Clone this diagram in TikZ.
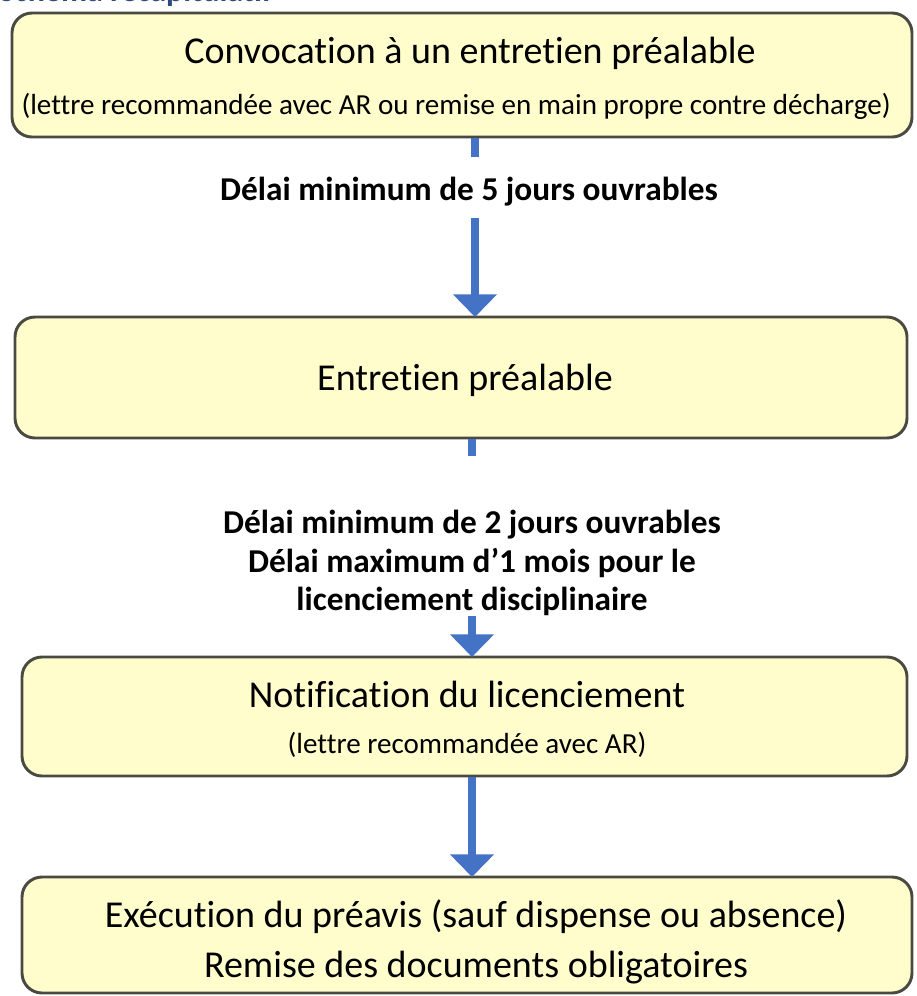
\documentclass[tikz,border=0pt]{standalone}
\usepackage{fontspec}
\setmainfont{Carlito}[Ligatures={NoCommon}]
\usetikzlibrary{arrows.meta}
\definecolor{boxfill}{HTML}{FFFDCC}
\definecolor{boxline}{HTML}{4A4A42}
\definecolor{arrblue}{HTML}{4472C4}
\definecolor{titleblue}{HTML}{2F4B7C}
\tikzset{
  stepbox/.style={draw=boxline, line width=2.2pt, fill=boxfill, rounded corners=15pt, inner sep=0pt},
  maintext/.style={font=\fontsize{28.5}{32}\selectfont, anchor=base, inner sep=0pt},
  subtext/.style={font=\fontsize{21.8}{25}\selectfont, anchor=base, inner sep=0pt},
  lbltext/.style={font=\fontsize{25}{29}\selectfont\bfseries, anchor=base, inner sep=0pt},
  flowarrow/.style={draw=arrblue, line width=6pt, -{Triangle[width=32pt,length=17pt]}, arrblue},
  flowstub/.style={draw=arrblue, line width=6pt},
}
\begin{document}
\begin{tikzpicture}[x=0.75pt,y=-0.75pt]
\useasboundingbox (0,0) rectangle (917,996);
\fill[white] (0,0) rectangle (917,996);
\begin{scope}
\clip (0,0) rectangle (917,996);
\node[anchor=base west, inner sep=0pt, font=\fontsize{24}{28}\selectfont\bfseries, text=titleblue] (title) at (-1,1.5) {Schéma récapitulatif};
\end{scope}

% boxes
\node[stepbox, minimum width=675pt, minimum height=93pt] (b1) at (462,75) {};
\node[stepbox, minimum width=669pt, minimum height=90.75pt] (b2) at (461,377.5) {};
\node[stepbox, minimum width=663.75pt, minimum height=89.25pt] (b3) at (464.5,716.5) {};
\node[stepbox, minimum width=667.5pt, minimum height=87pt] (b4) at (467,935) {};

% texts
\node[maintext] (t1) at (470,63) {Convocation à un entretien préalable};
\node[subtext] (s1) at (456,114) {(lettre recommandée avec AR ou remise en main propre contre décharge)};
\node[maintext] (t2) at (465,390) {Entretien préalable};
\node[maintext] (t3) at (467,707) {Notification du licenciement};
\node[subtext] (s3) at (467,753) {(lettre recommandée avec AR)};
\node[maintext] (t4a) at (476,927) {Exécution du préavis (sauf dispense ou absence)};
\node[maintext] (t4b) at (476,977) {Remise des documents obligatoires};

% labels
\node[lbltext] (l1) at (469,200) {Délai minimum de 5 jours ouvrables};
\node[lbltext] (l2a) at (472,533) {Délai minimum de 2 jours ouvrables};
\node[lbltext] (l2b) at (472,572) {Délai maximum d’1 mois pour le};
\node[lbltext] (l2c) at (472,610) {licenciement disciplinaire};

% arrows
\coordinate (a1s) at (475,138);
\coordinate (a1e) at (475,157);
\coordinate (a1b) at (475,218);
\coordinate (a1t) at (475,317);
\coordinate (a2s) at (472,439);
\coordinate (a2e) at (472,456);
\coordinate (a2b) at (472,616);
\coordinate (a2t) at (472,657);
\coordinate (a3s) at (472,777);
\coordinate (a3t) at (472,877);
\draw[flowstub] (a1s) -- (a1e);
\draw[flowarrow] (a1b) -- (a1t);
\draw[flowstub] (a2s) -- (a2e);
\draw[flowarrow] (a2b) -- (a2t);
\draw[flowarrow] (a3s) -- (a3t);
\end{tikzpicture}
\end{document}
